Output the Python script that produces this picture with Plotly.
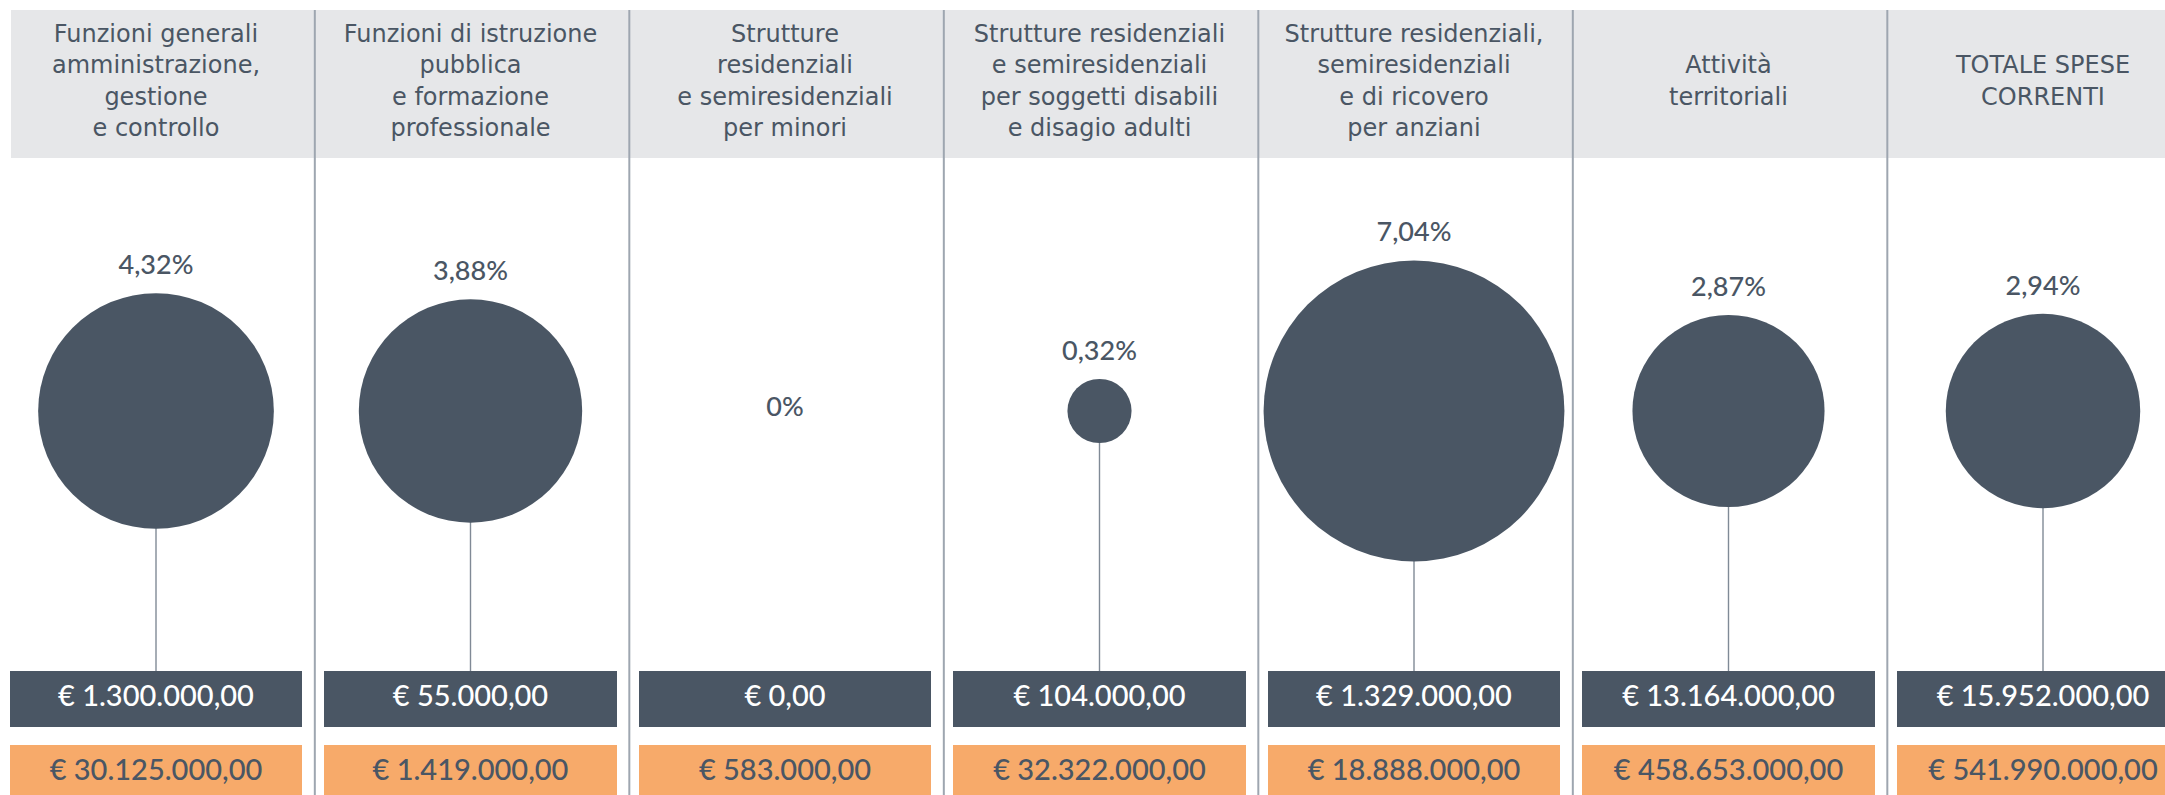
import math
import plotly.graph_objects as go

# ---------------- data ----------------
categories = [
    "Funzioni generali<br>amministrazione,<br>gestione<br>e controllo",
    "Funzioni di istruzione<br>pubblica<br>e formazione<br>professionale",
    "Strutture<br>residenziali<br>e semiresidenziali<br>per minori",
    "Strutture residenziali<br>e semiresidenziali<br>per soggetti disabili<br>e disagio adulti",
    "Strutture residenziali,<br>semiresidenziali<br>e di ricovero<br>per anziani",
    "Attività<br>territoriali",
    "TOTALE SPESE<br>CORRENTI",
]
percentuali = [4.32, 3.88, 0.0, 0.32, 7.04, 2.87, 2.94]
spese_parziali = [1300000, 55000, 0, 104000, 1329000, 13164000, 15952000]
spese_totali = [30125000, 1419000, 583000, 32322000, 18888000, 458653000, 541990000]

# ---------------- style ----------------
DARK = "#4a5664"
ORANGE = "#f7aa6a"
HEADER_BG = "#e6e7e9"
DIVIDER = "#9ea6b0"
CONNECTOR = "#808a96"
FONT = "Lato"
HFONT = "DejaVu Sans"

W, H = 2165, 795
X0, PITCH = 156, 314.5   # px of first column centre, px per column
DIV_OFF = 0.505
CY = 411          # bubble centre line (px from top)
BOX1 = (671, 56)  # dark box top, height
BOX2 = (745, 56)  # orange box top, height
SIZEREF = 1 / 6430.0


def euro(v):
    s = f"{v:,.2f}"
    s = s.replace(",", "X").replace(".", ",").replace("X", ".")
    return "€ " + s


def pct_label(p):
    if p == 0:
        return "0%"
    return f"{p:.2f}".replace(".", ",") + "%"


def diam(p):
    return 2 * math.sqrt(p / 2 / SIZEREF) if p > 0 else 0.0


n = len(categories)
xs = list(range(n))

fig = go.Figure()

# connector lines
lx, ly = [], []
for i, p in enumerate(percentuali):
    if p > 0:
        lx += [i, i, None]
        ly += [CY, BOX1[0], None]
fig.add_trace(go.Scatter(x=lx, y=ly, mode="lines",
                         line=dict(color=CONNECTOR, width=1.4),
                         hoverinfo="skip", showlegend=False))

# bubbles
fig.add_trace(go.Scatter(
    x=xs, y=[CY] * n, mode="markers",
    marker=dict(size=percentuali, sizemode="area", sizeref=SIZEREF, sizemin=0,
                color=DARK, line=dict(width=0), opacity=1),
    hoverinfo="skip", showlegend=False, cliponaxis=False))

# percentage labels
lab_y = [CY - diam(p) / 2 - 26 if p > 0 else CY - 2 for p in percentuali]
fig.add_trace(go.Scatter(
    x=xs, y=lab_y, mode="text", text=[pct_label(p) for p in percentuali],
    textposition="middle center",
    textfont=dict(family=FONT, size=27, color=DARK, weight=500),
    hoverinfo="skip", showlegend=False, cliponaxis=False))

# boxes
fig.add_trace(go.Bar(x=xs, y=[BOX1[1]] * n, base=[BOX1[0]] * n, width=0.93,
                     marker=dict(color=DARK, line=dict(width=0)),
                     hoverinfo="skip", showlegend=False))
fig.add_trace(go.Bar(x=xs, y=[BOX2[1]] * n, base=[BOX2[0]] * n, width=0.93,
                     marker=dict(color=ORANGE, line=dict(width=0)),
                     hoverinfo="skip", showlegend=False))

fig.add_trace(go.Scatter(
    x=xs, y=[BOX1[0] + BOX1[1] / 2] * n, mode="text",
    text=[euro(v) for v in spese_parziali], textposition="middle center",
    textfont=dict(family=FONT, size=29, color="white", weight=500),
    hoverinfo="skip", showlegend=False, cliponaxis=True))
fig.add_trace(go.Scatter(
    x=xs, y=[BOX2[0] + 28] * n, mode="text",
    text=[euro(v) for v in spese_totali], textposition="middle center",
    textfont=dict(family=FONT, size=29, color=DARK, weight=500),
    hoverinfo="skip", showlegend=False, cliponaxis=True))

# header labels
fig.add_trace(go.Scatter(
    x=xs, y=[83] * n, mode="text", text=categories,
    textposition="middle center",
    textfont=dict(family=HFONT, size=24, color=DARK),
    hoverinfo="skip", showlegend=False, cliponaxis=False))

shapes = [dict(type="rect", xref="paper", yref="y", x0=11 / W, x1=1, y0=10, y1=158,
               fillcolor=HEADER_BG, line=dict(width=0), layer="below")]
for i in range(n - 1):
    shapes.append(dict(type="line", xref="x", yref="y", x0=i + DIV_OFF, x1=i + DIV_OFF,
                       y0=10, y1=H, line=dict(color=DIVIDER, width=2), layer="below"))

fig.update_layout(
    width=W, height=H, margin=dict(l=0, r=0, t=0, b=0),
    paper_bgcolor="white", plot_bgcolor="white",
    barmode="overlay", bargap=0, showlegend=False,
    shapes=shapes,
    xaxis=dict(range=[-X0 / PITCH, (W - X0) / PITCH], visible=False, fixedrange=True),
    yaxis=dict(range=[H, 0], visible=False, fixedrange=True),
)

fig.write_html("out.html", config={"displayModeBar": False},
               post_script="document.body.style.margin='0px';document.body.style.padding='0px';document.body.style.overflow='hidden';")
